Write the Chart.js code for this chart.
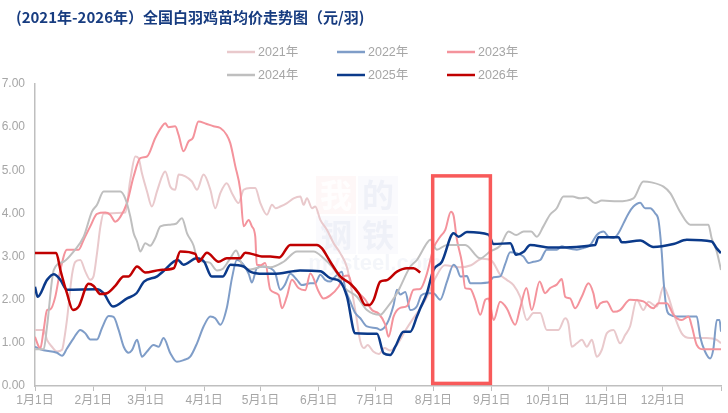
<!DOCTYPE html>
<html>
<head>
<meta charset="utf-8">
<script src="https://cdn.jsdelivr.net/npm/chart.js@4.4.1/dist/chart.umd.min.js"></script>
<style>
  html, body { margin: 0; padding: 0; background: #fff; }
  #wrap { width: 728px; height: 413px; }
</style>
</head>
<body>
<div id="wrap"><canvas id="chart" width="728" height="413"></canvas></div>
<script>
// x = day of year (0 = 1月1日), y = 元/羽
const monthStarts = [0, 31, 59, 90, 120, 151, 181, 212, 243, 273, 304, 334, 365];
const monthLabels = ['1月1日', '2月1日', '3月1日', '4月1日', '5月1日', '6月1日',
  '7月1日', '8月1日', '9月1日', '10月1日', '11月1日', '12月1日', ''];
const yearNames = ['2021年', '2022年', '2023年', '2024年', '2025年', '2026年'];
const titleText = '(2021年-2026年）全国白羽鸡苗均价走势图（元/羽)';

const s2021 = [[0,1.30],[4.6,1.30],[6.4,1.07],[9,0.91],[11.7,0.80],[14.4,0.84],[15.2,0.99],[17,1.53],
  [19.7,2.58],[21.5,2.88],[24.1,2.92],[26.8,2.65],[29.4,2.46],[31.2,2.55],[33,3.08],[34.8,3.70],[36.5,4.00],
  [48,4.02],[50.7,4.78],[53.4,5.32],[55.1,5.28],[56.9,4.93],[59.6,4.51],[62.2,4.16],[64.9,4.51],[67.6,4.86],
  [69.3,4.97],[72,4.62],[74.6,4.55],[76.4,4.90],[80,4.86],[83.5,4.74],[86.2,4.55],[89.7,4.90],[93.3,4.55],
  [95.9,4.12],[98.6,4.47],[102,4.70],[104.8,4.47],[108.3,4.24],[111,4.55],[114.5,4.59],[117.2,4.59],
  [119.9,4.24],[123.4,3.97],[126.1,4.20],[128,4.12],[130.5,4.16],[134.1,4.24],[137.6,4.35],[141.2,4.39],
  [142.9,4.20],[144.7,4.35],[147.4,4.12],[149.1,4.16],[151.8,3.85],[155.3,3.62],[158.9,3.31],[162.4,3.08],
  [166,2.75],[168.6,2.20],[171,1.60],[173,1.05],[175,0.88],[177,0.95],[180,0.80],[183,0.74],[186,0.88],
  [189,0.82],[193,0.98],[197,1.28],[201,1.55],[205,1.80],[209,2.10],[213,2.50],[218,2.80],[226,2.75],
  [232,2.80],[238,2.95],[243,2.90],[247.5,2.58],[251,2.46],[254.6,2.34],[258.1,2.07],[261.7,1.53],
  [265.2,1.69],[268.8,1.69],[272.3,1.30],[278.5,1.30],[282.1,1.57],[283.8,1.45],[285.6,0.91],[288.3,0.99],
  [291,1.07],[293.6,0.91],[296.3,1.07],[298.9,0.68],[301.6,0.84],[304.2,1.22],[307.8,1.30],[311.3,0.99],
  [314,1.18],[316.6,1.38],[320.2,2.00],[323.7,1.76],[326.4,1.95],[330.8,1.84],[334.4,2.30],[337,2.07],
  [339.7,1.69],[344.1,1.22],[348.6,1.11],[357.4,1.11],[362.7,1.07],[365,0.99]];

const s2022 = [[0,0.91],[2.8,0.85],[11.7,0.77],[14.4,0.70],[17,0.87],[20.6,1.11],[24.1,1.30],[26.8,1.22],
  [29.4,1.08],[33,1.08],[35.6,1.34],[39.2,1.62],[41.8,1.60],[44.5,1.30],[47.2,0.91],[49.8,0.77],[51.6,0.83],
  [54.3,1.07],[56.9,0.68],[59.6,0.80],[63.1,0.95],[65.8,0.91],[68.4,1.11],[72,0.76],[75.5,0.56],[79.1,0.60],
  [82.6,0.68],[86.2,0.99],[89.7,1.38],[93.3,1.61],[95.9,1.57],[98.6,1.42],[102,1.80],[104.8,2.50],
  [107.4,2.92],[111,2.81],[113.7,2.60],[115.4,2.40],[118,2.73],[121,2.77],[125.2,2.73],[127.8,2.62],
  [130.5,2.23],[133,2.35],[135.8,2.60],[139.4,2.46],[142,2.34],[146.5,2.38],[149.1,2.38],[151.8,2.58],
  [154.4,2.46],[157.1,2.42],[159.8,2.54],[163.3,2.65],[165,2.27],[167.7,1.96],[170.4,1.69],[173.1,1.57],
  [176.6,1.38],[181.9,1.34],[183.7,1.30],[187.3,1.45],[190.8,1.88],[192.6,2.23],[194.3,2.12],[197,2.18],
  [199.7,1.76],[203.2,1.85],[205.5,2.10],[208.5,2.15],[212,2.15],[215.6,2.00],[219.2,2.42],[222.7,2.81],
  [224.5,2.73],[226.3,2.54],[229.8,2.55],[231.6,2.38],[241.3,2.40],[244,2.52],[247.5,2.54],[250.2,2.83],
  [252.8,3.10],[256.4,3.08],[259.9,3.00],[262.6,2.85],[265.2,2.88],[268.8,2.92],[272.3,3.16],[277.6,3.16],
  [280.3,3.24],[283,3.20],[288.3,3.16],[291.8,3.20],[295.4,3.27],[298.9,3.50],[302.5,3.58],[305.1,3.46],
  [307.8,3.43],[310.4,3.54],[313.1,3.77],[315.8,4.00],[318.4,4.16],[322,4.25],[324.6,4.12],[327.3,4.12],
  [330,4.00],[331.7,3.85],[333.5,3.08],[334.4,2.46],[336.2,1.76],[337.9,1.65],[341.5,1.61],[352.1,1.61],
  [353.9,1.14],[356.5,0.80],[359.2,0.64],[360.9,0.85],[362.8,1.53],[364.2,1.53],[365,1.26]];

const s2023 = [[0,1.14],[2,0.91],[2.8,0.87],[4.6,1.30],[6.4,1.76],[8.2,1.78],[10.8,2.07],[13.5,2.69],
  [17,3.16],[23.2,3.16],[25.9,3.39],[29.4,3.70],[33,3.99],[37.4,4.02],[40,3.97],[42.7,3.81],[45.4,3.92],
  [48.9,4.24],[52.5,4.86],[56,5.28],[59.6,5.32],[64,5.75],[67.6,6.02],[69.3,6.09],[71,6.00],[74.6,6.02],
  [76.4,5.82],[79,5.44],[81.7,5.67],[84,5.75],[87,6.13],[91,6.08],[95,6.02],[98.6,5.98],[102,5.82],
  [103.9,5.63],[106.6,5.09],[109.2,4.55],[111,3.70],[113.7,3.85],[115.4,3.70],[117.2,3.46],[118,2.81],
  [120,2.80],[122.5,2.85],[125.2,2.23],[129.6,2.11],[131.4,1.80],[134,2.07],[136.7,2.46],[140.2,2.27],
  [143.8,2.22],[146.5,2.61],[150.9,2.19],[153.5,2.03],[157.1,2.10],[161.5,2.30],[164.2,2.54],[166.8,2.56],
  [168.6,2.34],[171.3,2.19],[175.7,2.00],[179.3,1.76],[182.8,1.68],[186.4,1.42],[188.1,1.14],[190.8,1.61],
  [194.3,1.81],[197.9,1.85],[201.4,2.23],[205,2.25],[208.5,2.60],[212,3.19],[215.6,3.46],[218.3,3.62],
  [221.3,4.04],[222.7,3.95],[224.5,3.39],[227.2,2.85],[228.9,2.27],[231.6,2.25],[234.2,2.00],[236.9,1.65],
  [239.6,2.00],[241.3,2.03],[244,1.53],[247.5,1.95],[251,1.80],[255.5,1.42],[258.1,1.80],[261.5,2.27],
  [264.3,1.76],[268.5,2.42],[271.4,2.15],[274.1,2.27],[277.6,2.35],[280.3,2.48],[282.1,2.07],[284.7,2.03],
  [287.4,1.80],[290.9,2.07],[294.5,2.38],[297.1,2.15],[298.9,1.80],[300.7,1.91],[304.2,1.96],[307.8,1.72],
  [311.3,1.76],[316.6,2.00],[323.7,1.96],[329,1.80],[331.7,1.92],[336.2,1.92],[339.7,1.65],[344.1,1.53],
  [347.7,1.61],[349.5,1.38],[352.1,0.95],[355.7,0.85],[365,0.85]];

const s2024 = [[0,0.85],[4.6,0.85],[6.4,1.38],[10,2.69],[15.2,2.88],[20.6,3.12],[25.9,3.46],[30.3,4.04],
  [33,4.20],[36.5,4.51],[45.4,4.51],[48,4.35],[50.7,3.93],[52.5,3.54],[54.3,3.35],[56,3.12],[58.7,3.31],
  [61.3,3.25],[64,3.43],[66.7,3.70],[72,3.74],[75,3.76],[78.2,3.89],[80.9,3.54],[84.4,3.25],[86.2,2.96],
  [89.7,2.88],[93,2.86],[96.8,2.68],[100,2.72],[103.9,2.96],[107,3.14],[110.1,2.82],[114.5,2.70],
  [121.6,2.77],[125.2,2.75],[132.3,2.88],[139.4,3.12],[148.2,3.12],[153.6,2.96],[160.7,2.61],[164.2,2.30],
  [171.3,2.07],[176.6,1.76],[183.7,1.65],[186.3,1.76],[192.6,2.15],[199.7,2.77],[203.2,2.92],[208.5,3.31],
  [210.3,3.39],[213.8,3.16],[219.2,3.27],[228.9,3.27],[236.9,2.96],[242.2,3.12],[247.5,3.25],[252,3.58],
  [256,3.50],[260,3.58],[264,3.58],[267,3.46],[270.5,3.70],[274,3.97],[277.6,4.12],[281.2,4.39],[286,4.39],
  [290,4.35],[293.5,4.37],[298,4.24],[301.6,4.30],[310,4.28],[318.4,4.35],[323.7,4.74],[328,4.72],
  [334.4,4.62],[338,4.47],[343.2,4.04],[348.6,3.74],[358.3,3.74],[360,3.43],[362.7,3.12],[365,2.69]];

const s2025 = [[0,2.30],[1.4,2.07],[6.4,2.46],[10,2.59],[13.5,2.46],[17,2.23],[33,2.24],[36.5,2.15],
  [41.5,1.84],[49,2.03],[54,2.15],[58,2.42],[65,2.54],[68,2.65],[76,2.92],[79,2.81],[86,2.96],[90,2.88],
  [94,2.54],[100,2.54],[104,2.81],[111,2.77],[114.5,2.65],[121.6,2.60],[130,2.61],[141,2.68],[151.8,2.66],
  [157.1,2.50],[162.4,2.42],[166,2.07],[170.4,1.22],[182,1.21],[185.5,0.76],[189,0.72],[191.7,0.91],
  [196.1,1.26],[199.7,1.26],[203.2,1.61],[205,1.80],[208.5,2.15],[212,2.69],[216.5,2.88],[222.7,3.54],
  [225.4,3.46],[229.8,3.57],[241.3,3.51],[244,3.29],[252.9,3.31],[256,3.04],[260,3.11],[263.5,3.27],
  [274,3.21],[298,3.27],[299.8,3.45],[310.4,3.45],[312.2,3.33],[322,3.37],[329,3.22],[339.7,3.29],
  [346.8,3.39],[360,3.35],[362.7,3.19],[365,3.08]];

const s2026 = [[0,3.08],[11.3,3.08],[13.5,2.69],[17,2.15],[20.2,1.76],[23.2,1.84],[28.5,2.37],[31.2,2.32],
  [34.8,2.13],[38.3,2.15],[42.7,2.32],[47.2,2.54],[49.8,2.54],[54.3,2.77],[58.7,2.63],[66.7,2.69],
  [73.8,2.73],[77.3,3.12],[85.3,3.06],[87,2.88],[91.5,3.09],[97.7,2.88],[102,2.96],[109,2.96],[111.9,3.09],
  [121.6,3.00],[125.2,3.00],[130,2.98],[135.8,3.27],[150,3.27],[152.7,3.19],[157.1,2.88],[162.4,2.54],
  [167.8,2.37],[172.2,2.15],[175.7,1.88],[178,1.88],[180.2,2.00],[183.7,2.42],[187,2.45],[192.6,2.65],
  [197.9,2.73],[201.4,2.73],[205,2.63]];

// highlighted window (8月1日 to 9月1日), in data units
const highlight = { from: 211.6, to: 242.3, top: 4.87, bottom: 0.06 };

const colors = ['#e9c9cc', '#7f9dc8', '#f4939c', '#bfbfbf', '#0b3a8a', '#c00000'];
const widths = [2, 2, 2, 2, 2.5, 2.5];
const series = [s2021, s2022, s2023, s2024, s2025, s2026];

const FONT = '"Liberation Sans", "Noto Sans CJK SC", sans-serif';
const GREY = '#a6a6a6';

const datasets = series.map((s, i) => ({
  label: yearNames[i],
  data: s.map(([x, y]) => ({ x: x, y: y })),
  borderColor: colors[i],
  backgroundColor: colors[i],
  borderWidth: widths[i],
  pointRadius: 0,
  cubicInterpolationMode: 'monotone',
  order: 6 - i
}));

const decorPlugin = {
  id: 'decor',
  beforeDatasetsDraw(chart) {
    const ctx = chart.ctx;
    // faint watermark
    ctx.save();
    ctx.fillStyle = 'rgba(235,120,120,0.06)';
    ctx.fillRect(316, 176, 40, 38);
    ctx.fillStyle = 'rgba(120,140,200,0.04)';
    ctx.fillRect(358, 176, 40, 38);
    ctx.fillRect(316, 216, 40, 38);
    ctx.fillRect(358, 216, 40, 38);
    ctx.textAlign = 'center';
    ctx.textBaseline = 'middle';
    ctx.font = 'bold 32px "Noto Sans CJK SC"';
    ctx.fillStyle = 'rgba(255,255,255,0.9)';
    ctx.fillText('我', 336, 195);
    ctx.fillStyle = 'rgba(70,100,170,0.06)';
    ctx.fillText('的', 378, 195);
    ctx.fillText('钢', 336, 235);
    ctx.fillText('铁', 378, 235);
    ctx.font = 'bold 22px "Liberation Sans"';
    ctx.fillText('mysteel.com', 375, 264);
    ctx.restore();
  },
  afterDraw(chart) {
    const ctx = chart.ctx;
    const xs = chart.scales.x, ys = chart.scales.y;
    ctx.save();
    // title
    ctx.font = 'bold 15px "Noto Sans CJK SC", "Liberation Sans", sans-serif';
    ctx.fillStyle = '#173c80';
    ctx.textAlign = 'left';
    ctx.textBaseline = 'middle';
    ctx.fillText(titleText, 16, 17);

    // legend, 3 columns x 2 rows
    const colX = [227, 337, 447];
    const rowY = [52, 75];
    ctx.font = '12.5px "Liberation Sans", "Noto Sans CJK SC", sans-serif';
    yearNames.forEach((name, i) => {
      const x = colX[i % 3], y = rowY[Math.floor(i / 3)];
      ctx.strokeStyle = colors[i];
      ctx.lineWidth = 2.5;
      ctx.beginPath();
      ctx.moveTo(x, y);
      ctx.lineTo(x + 28, y);
      ctx.stroke();
      ctx.fillStyle = GREY;
      ctx.fillText(name, x + 31, y + 1);
    });

    // red highlight box
    const x0 = xs.getPixelForValue(highlight.from);
    const x1 = xs.getPixelForValue(highlight.to);
    const y0 = ys.getPixelForValue(highlight.top);
    const y1 = ys.getPixelForValue(highlight.bottom);
    ctx.strokeStyle = '#f85a5a';
    ctx.lineWidth = 3.5;
    ctx.strokeRect(x0, y0, x1 - x0, y1 - y0);
    ctx.restore();
  }
};

new Chart(document.getElementById('chart'), {
  type: 'line',
  data: { datasets: datasets },
  options: {
    responsive: false,
    animation: false,
    layout: { padding: { top: 84, right: 7, left: 0, bottom: 0 } },
    plugins: {
      legend: { display: false },
      title: { display: false },
      tooltip: { enabled: false }
    },
    scales: {
      x: {
        type: 'linear',
        min: 0,
        max: 365,
        afterBuildTicks: (axis) => { axis.ticks = monthStarts.map(v => ({ value: v })); },
        afterFit: (axis) => { axis.height = 27; },
        ticks: {
          autoSkip: false,
          maxRotation: 0,
          padding: 2,
          color: GREY,
          font: { family: FONT, size: 12 },
          callback: (value, index) => monthLabels[index]
        },
        grid: { drawOnChartArea: false, drawTicks: true, tickLength: 5, color: '#bfbfbf' },
        border: { display: true, color: '#bfbfbf', width: 1.5 }
      },
      y: {
        min: 0,
        max: 7,
        afterFit: (axis) => { axis.width = 35; },
        ticks: {
          stepSize: 1,
          padding: 10,
          color: GREY,
          font: { family: FONT, size: 12 },
          callback: (v) => v.toFixed(2)
        },
        grid: { drawOnChartArea: false, drawTicks: false, color: '#bfbfbf' },
        border: { display: true, color: '#bfbfbf', width: 1.5 }
      }
    }
  },
  plugins: [decorPlugin]
});
</script>
</body>
</html>
